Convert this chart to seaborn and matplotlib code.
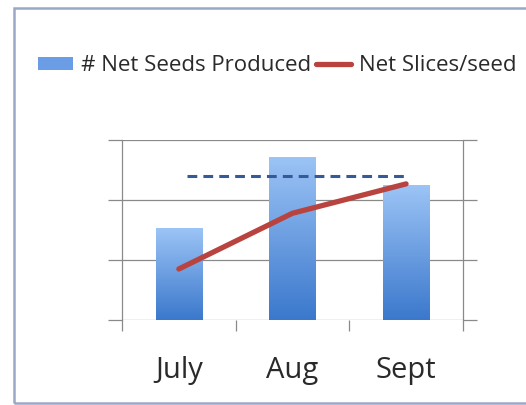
import numpy as np
import pandas as pd
import matplotlib
matplotlib.use("Agg")
import matplotlib.pyplot as plt
import seaborn as sns
from matplotlib.lines import Line2D
from matplotlib.patches import Patch, Rectangle
from matplotlib.colors import LinearSegmentedColormap

# data
months = ["July", "Aug", "Sept"]
seeds_produced = [1.53, 2.72, 2.25]
slices_per_seed = [0.85, 1.78, 2.27]
target_level = 2.4
target_span = [0.07, 2.03]

sns.set_theme(style="white")
plt.rcParams["font.family"] = ["Open Sans", "DejaVu Sans"]

df = pd.DataFrame({"month": months, "seeds": seeds_produced, "slices": slices_per_seed})

fig = plt.figure(figsize=(5.26, 4.05), dpi=100)
ax = fig.add_axes([0.232, 0.210, 0.648, 0.444])

sns.barplot(data=df, x="month", y="seeds", ax=ax, width=0.41, color="#6a9de6",
            edgecolor="none", zorder=2)

# vertical gradient fill for the bars, clipped to each bar
grad = LinearSegmentedColormap.from_list("bar", ["#3b78cc", "#9cc4f6"])
g = np.linspace(0, 1, 256).reshape(-1, 1)
for p in ax.patches:
    x0, y0 = p.get_x(), p.get_y()
    w, h = p.get_width(), p.get_height()
    p.set_alpha(0)
    im = ax.imshow(g, cmap=grad, origin="lower", aspect="auto",
                   extent=[x0, x0 + w, y0, y0 + h], zorder=2)
    clip = Rectangle((x0, y0), w, h, transform=ax.transData)
    im.set_clip_path(clip)

sns.lineplot(data=df, x="month", y="slices", ax=ax, color="#b8433f", lw=3.8,
             solid_capstyle="round", zorder=4, sort=False)
ax.plot(target_span, [target_level, target_level], color="#36599a", lw=2.2,
        ls=(0, (3.2, 2.0)), zorder=3)

ax.set_xlim(-0.5, 2.5)
ax.set_ylim(0, 3)
ax.set_yticks([0, 1, 2, 3])
ax.yaxis.grid(True, color="#8a8a8a", lw=0.9)
ax.set_axisbelow(True)
ax.tick_params(axis="y", which="both", left=True, right=True, direction="out",
               length=10, width=0.9, color="#8a8a8a", labelleft=False, labelright=False)
ax.set_xticks([-0.5, 0.5, 1.5, 2.5], minor=True)
ax.tick_params(axis="x", which="minor", bottom=True, length=8, width=0.9,
               color="#8a8a8a", direction="out")
ax.tick_params(axis="x", which="major", bottom=False, labelsize=21, pad=20,
               labelcolor="#2a2a2a")
ax.set_xlabel("")
ax.set_ylabel("")
for side in ["top", "bottom"]:
    ax.spines[side].set_visible(False)
for side in ["left", "right"]:
    ax.spines[side].set_color("#8a8a8a")
    ax.spines[side].set_linewidth(0.9)

handles = [
    Patch(facecolor="#6a9de6", edgecolor="none"),
    Line2D([0], [0], color="#b8433f", lw=3.8),
]
fig.legend(handles, ["# Net Seeds Produced", "Net Slices/seed"], loc="center left",
           bbox_to_anchor=(0.055, 0.838), ncol=2, frameon=False, fontsize=16,
           handlelength=1.6, handleheight=0.5, handletextpad=0.35, columnspacing=0.2,
           labelcolor="#2a2a2a", borderaxespad=0)

# outer chart frame
fig.add_artist(Rectangle((14 / 526, 2 / 405), 1.2, 395 / 405, transform=fig.transFigure,
                         fill=False, edgecolor="#9aa8c6", lw=1.8))

fig.savefig("out.png", dpi=100, facecolor="white")
